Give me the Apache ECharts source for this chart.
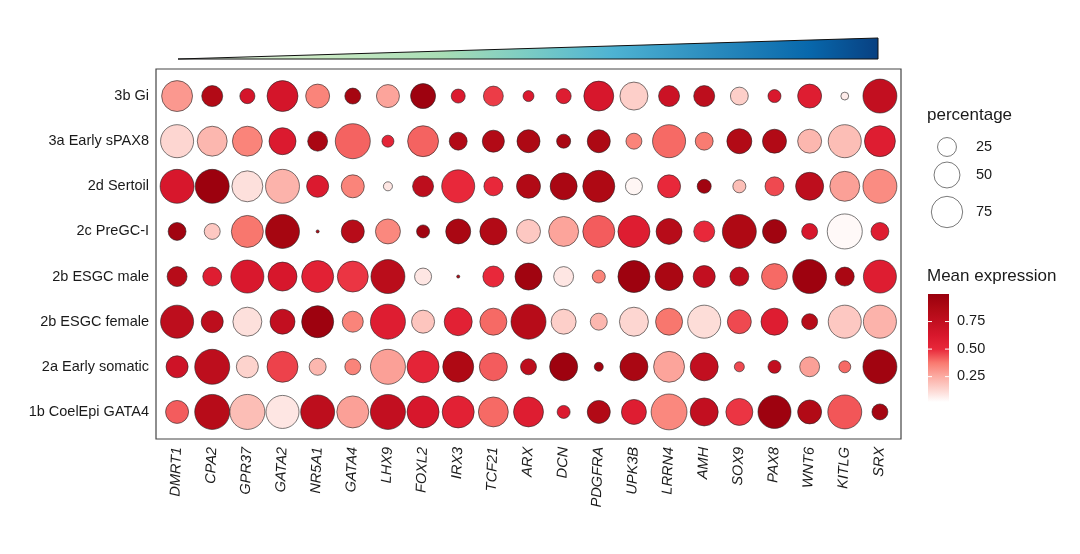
<!DOCTYPE html>
<html>
<head>
<meta charset="utf-8">
<script src="https://cdn.jsdelivr.net/npm/echarts@6/dist/echarts.min.js"></script>
<style>
html,body{margin:0;padding:0;background:#fff;}
#main{width:1080px;height:554px;}
</style>
</head>
<body>
<div id="main"></div>
<script>
var genes = ['DMRT1','CPA2','GPR37','GATA2','NR5A1','GATA4','LHX9','FOXL2','IRX3','TCF21','ARX',
             'DCN','PDGFRA','UPK3B','LRRN4','AMH','SOX9','PAX8','WNT6','KITLG','SRX'];
// top to bottom
var cellTypes = ['3b Gi','3a Early sPAX8','2d Sertoil','2c PreGC-I','2b ESGC male',
                 '2b ESGC female','2a Early somatic','1b CoelEpi GATA4'];

// percentage of cells expressing, one row per cell type
var pct = [
    [73,31.5,15,73,42,17,38.5,46,12.6,28,7,15,68,59,31.5,31.5,22,10.6,42,3,89],
    [84,68,68,54.5,28,95,8.7,73,22,35,38.5,12.6,38.5,17,84,22,46,42,42,84,73],
    [89,89,73,89,35,38.5,4.3,31.5,84,25,42,54.5,78.5,19.6,38.5,12.6,10.6,25,59,68,89],
    [22,17,78.5,89,0.1,38.5,46,10.6,46,54.5,42,68,78.5,78.5,50,31.5,89,42,17,95,22],
    [28,25,84,63.5,78.5,73,89,19.6,0.1,31.5,54.5,28,10.6,78.5,59,35,25,50,89,25,84],
    [84,35,63.5,46,78.5,31.5,95,38.5,59,54.5,95,46,19.6,63.5,54.5,84,42,54.5,17,84,84],
    [35,95,35,73,19.6,17,95,78.5,73,59,17,59,4.3,59,73,59,5.6,10.6,28,8.7,89],
    [38.5,95,95,84,89,78.5,95,78.5,78.5,68,68,10.6,38.5,46,100,59,54.5,84,42,89,17]
];

// mean expression
var expr = [
    [0.30,0.85,0.65,0.65,0.35,0.92,0.27,0.97,0.60,0.47,0.60,0.58,0.63,0.15,0.70,0.78,0.15,0.62,0.58,0.06,0.75],
    [0.13,0.22,0.35,0.60,0.90,0.41,0.53,0.41,0.85,0.85,0.88,0.90,0.88,0.35,0.40,0.37,0.85,0.85,0.22,0.20,0.58],
    [0.63,0.98,0.10,0.23,0.60,0.35,0.08,0.78,0.50,0.50,0.85,0.90,0.87,0.03,0.50,0.95,0.20,0.45,0.78,0.28,0.33],
    [0.95,0.17,0.38,0.92,0.85,0.82,0.34,0.95,0.90,0.85,0.17,0.27,0.42,0.58,0.82,0.50,0.87,0.95,0.63,0.02,0.58],
    [0.82,0.58,0.62,0.63,0.55,0.48,0.80,0.08,0.85,0.50,0.95,0.08,0.35,0.97,0.90,0.75,0.78,0.40,0.97,0.90,0.58],
    [0.78,0.78,0.10,0.75,0.97,0.35,0.58,0.18,0.55,0.40,0.82,0.15,0.22,0.13,0.38,0.11,0.45,0.58,0.82,0.17,0.23],
    [0.68,0.78,0.14,0.46,0.22,0.35,0.28,0.53,0.87,0.42,0.78,0.97,0.95,0.90,0.27,0.75,0.45,0.75,0.28,0.40,0.95],
    [0.42,0.82,0.20,0.08,0.78,0.28,0.75,0.63,0.55,0.40,0.58,0.60,0.85,0.58,0.34,0.75,0.48,0.97,0.85,0.43,0.93]
];

var exprColors = ['#ffffff','#fdd8d3','#fcaca3','#f97a70','#e8283a','#d8172c','#c20f20','#ae0914','#99000d'];
var sizeTicks = [25, 50, 75];
var colorTicks = [0.25, 0.50, 0.75];

function dotSize(p) {
    return 2 + 33 * Math.sqrt(p / 95);
}

var myChart = echarts.init(document.getElementById('main'));

var points = [];
for (var r = 0; r < cellTypes.length; r++) {
    for (var c = 0; c < genes.length; c++) {
        points.push([c, r, pct[r][c], expr[r][c]]);
    }
}

var idx = function (n) { var a = []; for (var i = 0; i < n; i++) a.push(i); return a; };

// colour bar in legend
var barTop = 294, barBottom = 402;
var barVal = function (v) { return barTop + (1 - v) / 0.98 * (barBottom - barTop); };
var barStops = exprColors.map(function (col, i) {
    var v = i / (exprColors.length - 1);
    return {offset: Math.min(1, (1 - v) / 0.98), color: col};
}).reverse();

var legendFont = 'Liberation Sans';

var graphics = [
    {
        type: 'polygon',
        shape: {points: [[178, 59], [878, 59], [878, 38]]},
        style: {
            fill: new echarts.graphic.LinearGradient(0, 0, 1, 0, [
                {offset: 0, color: '#e6f5e0'},
                {offset: 0.2, color: '#ccebc5'},
                {offset: 0.38, color: '#a8ddb5'},
                {offset: 0.5, color: '#7bccc4'},
                {offset: 0.62, color: '#4eb3d3'},
                {offset: 0.76, color: '#2b8cbe'},
                {offset: 0.9, color: '#0868ac'},
                {offset: 1, color: '#084081'}
            ]),
            stroke: '#111',
            lineWidth: 1
        }
    },
    {type: 'text', left: 927, top: 107, style: {text: 'percentage', fontSize: 17, fill: '#1a1a1a', fontFamily: legendFont}},
    {type: 'text', left: 927, top: 268, style: {text: 'Mean expression', fontSize: 17, fill: '#1a1a1a', fontFamily: legendFont}},
    {
        type: 'rect',
        shape: {x: 928, y: barTop, width: 21, height: barBottom - barTop},
        style: {fill: new echarts.graphic.LinearGradient(0, 0, 0, 1, barStops)}
    }
];

var sizeY = [147, 175, 212];
sizeTicks.forEach(function (v, i) {
    graphics.push({
        type: 'circle',
        shape: {cx: 947, cy: sizeY[i], r: dotSize(v) / 2},
        style: {fill: '#fff', stroke: '#222', lineWidth: 0.6}
    });
    graphics.push({
        type: 'text', left: 976, top: sizeY[i] - 8,
        style: {text: String(v), fontSize: 14.5, fill: '#1a1a1a', fontFamily: legendFont}
    });
});

colorTicks.forEach(function (v) {
    var y = barVal(v);
    graphics.push({type: 'line', shape: {x1: 928, y1: y, x2: 932, y2: y}, style: {stroke: '#fff', lineWidth: 1}});
    graphics.push({type: 'line', shape: {x1: 945, y1: y, x2: 949, y2: y}, style: {stroke: '#fff', lineWidth: 1}});
    graphics.push({
        type: 'text', left: 957, top: y - 8,
        style: {text: v.toFixed(2), fontSize: 14.5, fill: '#1a1a1a', fontFamily: legendFont}
    });
});

option = {
    backgroundColor: '#fff',
    animation: false,
    textStyle: {fontFamily: 'Liberation Sans'},
    grid: {
        left: 156, right: 179, top: 69, bottom: 115,
        show: true, borderColor: '#444', borderWidth: 1.2
    },
    xAxis: {
        type: 'value',
        min: -0.6, max: genes.length - 0.4,
        splitLine: {show: false},
        axisLine: {show: false},
        axisTick: {show: true, length: 4, lineStyle: {color: '#444'}, customValues: idx(genes.length)},
        axisLabel: {
            customValues: idx(genes.length),
            rotate: 88,
            margin: 8,
            fontSize: 14.5,
            fontStyle: 'italic',
            color: '#1a1a1a',
            formatter: function (v) { return genes[Math.round(v)]; }
        }
    },
    yAxis: {
        type: 'value',
        inverse: true,
        min: -0.6, max: cellTypes.length - 0.4,
        splitLine: {show: false},
        axisLine: {show: false},
        axisTick: {show: true, length: 4, lineStyle: {color: '#444'}, customValues: idx(cellTypes.length)},
        axisLabel: {
            customValues: idx(cellTypes.length),
            margin: 7,
            fontSize: 14.5,
            color: '#1a1a1a',
            formatter: function (v) { return cellTypes[Math.round(v)]; }
        }
    },
    visualMap: {
        show: false,
        type: 'continuous',
        dimension: 3,
        min: 0,
        max: 1,
        inRange: {color: exprColors}
    },
    series: [{
        type: 'scatter',
        data: points,
        symbolSize: function (val) { return dotSize(val[2]); },
        itemStyle: {borderColor: '#222', borderWidth: 0.6, opacity: 1}
    }],
    graphic: graphics
};

myChart.setOption(option);
</script>
</body>
</html>
